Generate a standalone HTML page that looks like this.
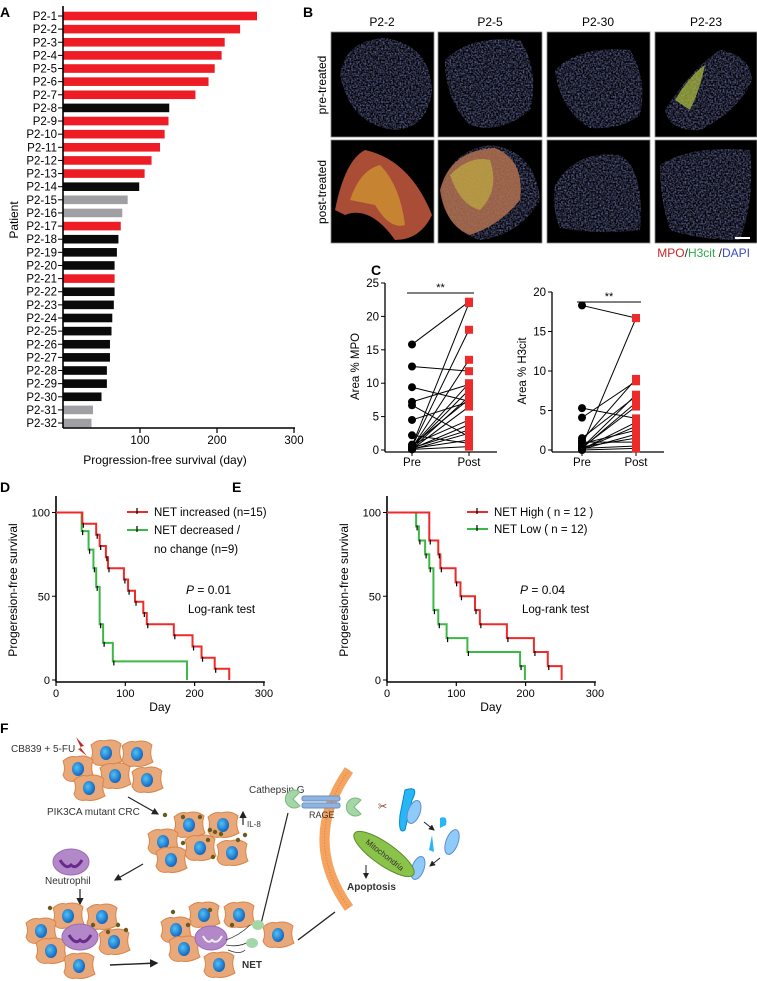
<!DOCTYPE html>
<html><head><meta charset="utf-8"><style>
html,body{margin:0;padding:0;background:#fff;}
svg{display:block;font-family:"Liberation Sans",Arial,sans-serif;}
</style></head><body>
<svg id="fig" width="757" height="981" viewBox="0 0 757 981">
<defs>
<radialGradient id="nuc" cx="40%" cy="40%" r="60%"><stop offset="0" stop-color="#4fc3f7"/><stop offset="1" stop-color="#1565c0"/></radialGradient>
<filter id="noise"><feTurbulence type="fractalNoise" baseFrequency="0.6" numOctaves="2" seed="3"/><feColorMatrix values="0 0 0 0 0.3  0 0 0 0 0.35  0 0 0 0 0.85  0 0 0 -1.6 1.1"/><feComposite in2="SourceGraphic" operator="in"/></filter>
<marker id="arr" markerWidth="6" markerHeight="6" refX="5" refY="3" orient="auto"><path d="M0,0 L6,3 L0,6 z" fill="#222"/></marker>
</defs>

<text x="0" y="17" font-size="14" font-weight="bold">A</text>
<text x="303" y="17" font-size="14" font-weight="bold">B</text>
<text x="371" y="275" font-size="14" font-weight="bold">C</text>
<text x="0" y="492" font-size="14" font-weight="bold">D</text>
<text x="232" y="492" font-size="14" font-weight="bold">E</text>
<text x="0" y="733" font-size="14" font-weight="bold">F</text>

<g id="panelA"></g>

<g id="panelB">
<text x="382" y="26" font-size="12" text-anchor="middle">P2-2</text>
<text x="490" y="26" font-size="12" text-anchor="middle">P2-5</text>
<text x="598" y="26" font-size="12" text-anchor="middle">P2-30</text>
<text x="706" y="26" font-size="12" text-anchor="middle">P2-23</text>
<text transform="translate(326,85) rotate(-90)" font-size="12" text-anchor="middle">pre-treated</text>
<text transform="translate(326,192) rotate(-90)" font-size="12" text-anchor="middle">post-treated</text>
<g stroke="#888" stroke-width="0.8">
<rect x="331" y="32" width="103" height="105" fill="#000"/><rect x="438" y="32" width="104" height="105" fill="#000"/><rect x="547" y="32" width="103" height="105" fill="#000"/><rect x="655" y="32" width="102" height="105" fill="#000"/>
<rect x="331" y="140" width="103" height="103" fill="#000"/><rect x="438" y="140" width="104" height="103" fill="#000"/><rect x="547" y="140" width="103" height="103" fill="#000"/><rect x="655" y="140" width="102" height="103" fill="#000"/>
</g>
<g filter="url(#noise)" opacity="0.75">
<path d="M340,75 Q345,40 385,38 Q430,45 432,90 Q428,128 395,130 Q350,125 340,75z" fill="#3a48a0"/>
<path d="M445,60 Q470,35 520,40 Q540,70 530,110 Q500,135 470,125 Q445,100 445,60z" fill="#3440a8"/>
<path d="M555,70 Q580,45 630,50 Q648,80 640,115 Q620,130 590,128 Q560,110 555,70z" fill="#3440a8"/>
<path d="M665,110 Q690,70 720,50 Q750,55 752,80 Q740,110 700,130 Q670,132 665,110z" fill="#4050b0"/>
<path d="M555,185 Q575,150 620,155 Q645,170 640,230 Q600,235 560,228 Q552,210 555,185z" fill="#4a2a80"/>
<path d="M660,165 Q690,145 750,150 Q755,200 740,240 Q700,240 670,230 Q660,200 660,165z" fill="#3848b0"/>
<path d="M442,190 Q450,150 490,145 Q535,150 540,200 Q520,235 480,240 Q445,230 442,190z" fill="#3848b0"/>
</g>
<path d="M335,210 Q345,160 365,150 Q410,160 432,215 Q420,240 395,240 Q370,205 345,215z" fill="#c85a40" opacity="0.85"/>
<path d="M440,190 Q450,150 495,148 Q525,160 520,200 Q500,225 470,235 Q445,225 440,190z" fill="#b07050" opacity="0.85"/>
<path d="M675,100 Q690,75 705,65 Q700,90 690,110z" fill="#b0c040" opacity="0.7"/>
<path d="M350,200 Q360,170 380,165 Q400,185 405,225 Q390,230 375,205z" fill="#d8a830" opacity="0.6"/>
<path d="M450,175 Q470,155 490,160 Q500,190 480,210 Q460,205 450,175z" fill="#c8c040" opacity="0.55"/>
<rect x="735" y="237" width="15" height="2" fill="#fff"/>
<text x="750" y="257" font-size="12" text-anchor="end"><tspan fill="#c62828">MPO</tspan><tspan fill="#222">/</tspan><tspan fill="#2eaa4a">H3cit</tspan><tspan fill="#222"> /</tspan><tspan fill="#3b4bc8">DAPI</tspan></text>
</g>

<g id="panelC"></g>
<g id="panelD"></g>
<g id="panelE"></g>

<g id="panelF" font-family="'Liberation Sans Narrow','Liberation Sans',sans-serif">
<text x="11" y="752" font-size="10" fill="#333">CB839 + 5-FU</text>
<path d="M76,737 L84,746 L80,747 L87,756 L78,749 L81,748z" fill="#c62828"/>
<text x="47" y="815" font-size="10" fill="#333">PIK3CA mutant CRC</text>
<line x1="128" y1="797" x2="158" y2="814" stroke="#222" stroke-width="1.2" marker-end="url(#arr)"/>
<line x1="243" y1="825" x2="243" y2="812" stroke="#222" stroke-width="1.2" marker-end="url(#arr)"/>
<text x="247" y="827" font-size="8" fill="#333">IL-8</text>
<line x1="143" y1="864" x2="115" y2="880" stroke="#222" stroke-width="1.2" marker-end="url(#arr)"/>
<text x="45" y="884" font-size="10" fill="#333">Neutrophil</text>
<line x1="80" y1="889" x2="80" y2="904" stroke="#222" stroke-width="1.2" marker-end="url(#arr)"/>
<line x1="110" y1="965" x2="157" y2="963" stroke="#222" stroke-width="1.4" marker-end="url(#arr)"/>
<line x1="260" y1="928" x2="288" y2="813" stroke="#222" stroke-width="1.2"/>
<line x1="298" y1="940" x2="335" y2="912" stroke="#222" stroke-width="1.4"/>
<g id="cells"></g>
<ellipse cx="71" cy="862" rx="18" ry="13" fill="#b388c8" stroke="#9a6ab8"/>
<path d="M60,860 Q66,870 71,865 Q76,870 82,860" stroke="#6a2a8a" stroke-width="3" fill="none"/>
<ellipse cx="80" cy="937" rx="18" ry="13" fill="#b388c8" stroke="#9a6ab8"/>
<path d="M69,935 Q75,945 80,940 Q85,945 91,935" stroke="#6a2a8a" stroke-width="3" fill="none"/>
<ellipse cx="211" cy="938" rx="16" ry="12" fill="#b388c8" stroke="#9a6ab8"/>
<path d="M203,936 Q208,945 212,940 Q217,945 222,936" stroke="#eee" stroke-width="2" fill="none"/>
<path d="M226,940 Q240,935 250,925 M226,945 Q240,948 252,940 M228,950 Q240,955 245,950" stroke="#333" stroke-width="0.8" fill="none"/>
<ellipse cx="258" cy="925" rx="6" ry="5" fill="#a5d6a7"/><ellipse cx="252" cy="943" rx="6" ry="5" fill="#a5d6a7"/>
<text x="242" y="968" font-size="10" font-weight="bold" fill="#333">NET</text>
<path d="M349,770 Q300,840 349,908" stroke="#f4a460" stroke-width="10" fill="none"/>
<path d="M349,770 Q300,840 349,908" stroke="#e07a30" stroke-width="1" stroke-dasharray="1 2" fill="none"/>
<text x="249" y="793" font-size="10" fill="#333">Cathepsin G</text>
<path d="M300,792 A9,9 0 1 0 300,806 L293,799z" fill="#a5d6a7" stroke="#7cb87f"/>
<rect x="302" y="796" width="38" height="5" rx="2" fill="#90b4e0" stroke="#6a8fc0"/><rect x="302" y="803" width="38" height="5" rx="2" fill="#90b4e0" stroke="#6a8fc0"/>
<text x="309" y="818" font-size="9" fill="#333">RAGE</text>
<path d="M361,800 A9,9 0 1 0 361,814 L354,807z" fill="#a5d6a7" stroke="#7cb87f"/>
<text x="378" y="810" font-size="11" fill="#8b3a1a">✂</text>
<path d="M405,790 Q420,785 412,800 L405,830 Q398,835 400,815z" fill="#29b6f6" stroke="#0288d1"/>
<ellipse cx="414" cy="812" rx="6" ry="12" fill="#90caf9" stroke="#5c8fd0" transform="rotate(20 414 812)"/>
<path d="M440,818 Q448,815 446,825 L440,828z" fill="#29b6f6"/><path d="M432,835 L434,852 L429,850z" fill="#29b6f6"/>
<ellipse cx="452" cy="842" rx="6" ry="13" fill="#90caf9" stroke="#5c8fd0" transform="rotate(20 452 842)"/>
<ellipse cx="418" cy="868" rx="6" ry="12" fill="#90caf9" stroke="#5c8fd0" transform="rotate(20 418 868)"/>
<ellipse cx="384" cy="854" rx="36" ry="11" fill="#8bc34a" stroke="#5a8a2a" transform="rotate(35 384 854)"/>
<text transform="translate(365,843) rotate(38)" font-size="8" fill="#333">Mitochondria</text>
<text x="347" y="890" font-size="10" font-weight="bold" fill="#333">Apoptosis</text>
<line x1="366" y1="865" x2="366" y2="878" stroke="#222" stroke-width="1" marker-end="url(#arr)"/>
<line x1="424" y1="822" x2="434" y2="830" stroke="#222" stroke-width="1" marker-end="url(#arr)"/>
<line x1="440" y1="858" x2="430" y2="866" stroke="#222" stroke-width="1" marker-end="url(#arr)"/>
</g>
</svg>
<script>
var NS="http://www.w3.org/2000/svg";
function mk(parent,tag,attrs){var e=document.createElementNS(NS,tag);for(var k in attrs)e.setAttribute(k,attrs[k]);parent.appendChild(e);return e;}
function txt(parent,x,y,s,size,anchor,extra){var t=mk(parent,'text',{x:x,y:y,'font-size':size,'text-anchor':anchor||'start'});if(extra)for(var k in extra)t.setAttribute(k,extra[k]);t.textContent=s;return t;}

/* ---------- Panel A data ---------- */
var patients=['P2-1','P2-2','P2-3','P2-4','P2-5','P2-6','P2-7','P2-8','P2-9','P2-10','P2-11','P2-12','P2-13','P2-14','P2-15','P2-16','P2-17','P2-18','P2-19','P2-20','P2-21','P2-22','P2-23','P2-24','P2-25','P2-26','P2-27','P2-28','P2-29','P2-30','P2-31','P2-32'];
var pfsDays=[252,230,210,206,197,189,172,138,137,132,126,115,106,99,84,77,75,72,70,67,67,67,66,64,63,61,61,57,57,50,39,37];
var pfsGroup=['r','r','r','r','r','r','r','k','r','r','r','r','r','k','g','g','r','k','k','k','r','k','k','k','k','k','k','k','k','k','g','g'];
var aTicks=[100,200,300];
(function(){
 var g=document.getElementById('panelA');
 var x0=63,pxPer=0.77,y1=16,step=13.13,axisY=428;
 function xs(v){return x0+v*pxPer;}
 function ys(i){return y1+i*step;}
 var col={r:'#ee1c25',k:'#0a0a0a',g:'#a0a0a4'};
 for(var i=0;i<patients.length;i++){
  var b=mk(g,'rect',{x:x0,y:ys(i)-4.3,width:xs(pfsDays[i])-x0,height:8.6,fill:col[pfsGroup[i]]});
  
  
  mk(g,'line',{x1:x0-5,x2:x0,y1:ys(i),y2:ys(i),stroke:'#000','stroke-width':1});
  var t=txt(g,x0-6,ys(i)+4,patients[i],11.5,'end');
  
  
 }
 mk(g,'line',{x1:x0,x2:x0,y1:6,y2:axisY,stroke:'#000','stroke-width':1.6});
 mk(g,'line',{x1:x0,x2:xs(300)+1,y1:axisY,y2:axisY,stroke:'#000','stroke-width':1.6});
 aTicks.forEach(function(v){mk(g,'line',{x1:xs(v),x2:xs(v),y1:axisY,y2:axisY+5,stroke:'#000','stroke-width':1.2});
  var t=txt(g,xs(v),axisY+16,String(v),11.5,'middle');
  
  });
 var xt=txt(g,165,464,'Progression-free survival (day)',12,'middle');
 
 
 var yt=txt(g,0,0,'Patient',12,'middle',{transform:'translate(18,220) rotate(-90)'});
 
 
})();

/* ---------- Panel C data ---------- */
var mpoPre=[15.8,12.5,9.4,7.2,6.7,4.5,2.2,0.5,0.3,0.5,0.2,0.1,0.8,0.3,0.2,0.6,0.1,0.2,0.4,0.1,0.7];
var mpoPost=[22.2,11.8,7.3,9.8,2.0,7.2,1.0,18.0,13.5,10.0,8.0,6.5,4.5,3.0,1.5,22.0,2.5,3.8,9.0,0.5,7.6];
var mpoTicks=[0,5,10,15,20,25];
var h3Pre=[18.3,5.3,4.1,1.5,1.2,0.5,0.3,0.2,0.1,0.8,0.4,0.2,0.1,1.0,0.3,0.1,0.0];
var h3Post=[16.7,4.0,8.7,6.8,9.0,16.7,7.0,6.0,3.5,2.5,1.5,0.5,2.0,1.0,5.5,3.0,0.2];
var h3Ticks=[0,5,10,15,20];
(function(){
 var g=document.getElementById('panelC');
 function plot(ax,axTop,axMax,pre,post,ticks,preX,postX,title,name){
  var y0=450,span=y0-axTop;
  function ys(v){return y0-v/axMax*span;}
  var sub=mk(g,'g',{});
  
  
  mk(sub,'line',{x1:ax,x2:ax,y1:axTop,y2:y0+2,stroke:'#000','stroke-width':1.3});
  mk(sub,'line',{x1:ax,x2:ax+112,y1:y0+2,y2:y0+2,stroke:'#000','stroke-width':1.3});
  ticks.forEach(function(v){mk(sub,'line',{x1:ax-4,x2:ax,y1:ys(v),y2:ys(v),stroke:'#000'});txt(sub,ax-6,ys(v)+4,String(v),11.5,'end');});
  [preX,postX].forEach(function(x){mk(sub,'line',{x1:x,x2:x,y1:y0+2,y2:y0+6,stroke:'#000'});});
  txt(sub,preX,y0+16,'Pre',11.5,'middle');txt(sub,postX,y0+16,'Post',11.5,'middle');
  txt(sub,0,0,title,11.5,'middle',{transform:'translate('+(ax-26)+','+((axTop+y0)/2)+') rotate(-90)'});
  mk(sub,'line',{x1:preX-5,x2:postX+5,y1:axTop+10,y2:axTop+10,stroke:'#000'});
  txt(sub,(preX+postX)/2,axTop+8,'**',11,'middle');
  for(var i=0;i<pre.length;i++){
   var l=mk(sub,'line',{x1:preX,y1:ys(pre[i]),x2:postX,y2:ys(post[i]),stroke:'#000','stroke-width':1});
   
   
  }
  for(var i=0;i<pre.length;i++){
   var s=mk(sub,'rect',{x:postX-4,y:ys(post[i])-4,width:8,height:8,fill:'#ee2a2a'});
   
   
   var c=mk(sub,'circle',{cx:preX,cy:ys(pre[i]),r:4,fill:'#000'});
   
   
  }
 }
 plot(385,283,25,mpoPre,mpoPost,mpoTicks,412,469,'Area % MPO','mpo-chart');
 plot(552,292,20,h3Pre,h3Post,h3Ticks,582,636,'Area % H3cit','h3cit-chart');
})();

/* ---------- Panel D/E data ---------- */
var dRedT=[38,58,63,72,75,98,104,114,126,131,170,197,210,229,250];
var dRedS=[93.3,86.7,80,73.3,66.7,60,53.3,46.7,40,33.3,26.7,20,13.3,6.7,0];
var dGrnT=[37,47,54,58,63,68,82,189];
var dGrnS=[88.9,77.8,66.7,55.6,33.3,22.2,11.1,0];
var eRedT=[61,74,77,99,106,127,134,173,212,232,252];
var eRedS=[83.3,75,66.7,58.3,50,41.7,33.3,25,16.7,8.3,0];
var eGrnT=[42,46,55,61,67,74,86,116,192,199];
var eGrnS=[91.7,83.3,75,66.7,41.7,33.3,25,16.7,8.3,0];
var kmXTicks=[0,100,200,300];
var kmYTicks=[0,50,100];
function km(gid,ax,redT,redS,grnT,grnS,leg,pText){
 var g=document.getElementById(gid);
 var y100=512.5,y0=680,pxX=0.693;
 function xs(d){return ax+d*pxX;}
 function ys(v){return y0-v/100*(y0-y100);}
 mk(g,'line',{x1:ax,x2:ax,y1:496,y2:y0+2,stroke:'#000','stroke-width':1.6});
 mk(g,'line',{x1:ax,x2:xs(300)+1,y1:y0+2,y2:y0+2,stroke:'#000','stroke-width':1.6});
 kmXTicks.forEach(function(v){mk(g,'line',{x1:xs(v),x2:xs(v),y1:y0+2,y2:y0+6,stroke:'#000','stroke-width':1.2});txt(g,xs(v),y0+17,String(v),11,'middle');});
 kmYTicks.forEach(function(v){mk(g,'line',{x1:ax-4,x2:ax,y1:ys(v),y2:ys(v),stroke:'#000'});txt(g,ax-6,ys(v)+4,String(v),11,'end');});
 txt(g,xs(150),y0+31,'Day',12,'middle');
 txt(g,0,0,'Progeresion-free survival',12,'middle',{transform:'translate('+(ax-39)+',590) rotate(-90)'});
 function curve(T,S,color,name){
  var d='M'+xs(0)+','+ys(100);
  for(var i=0;i<T.length;i++){d+=' H'+xs(T[i])+' V'+ys(S[i]);}
  var p=mk(g,'path',{d:d,fill:'none',stroke:color,'stroke-width':2});
  
  
  for(var i=0;i<T.length-1;i++){mk(g,'line',{x1:xs(T[i])+1,x2:xs(T[i])+1,y1:ys(S[i])-1,y2:ys(S[i])+4,stroke:'#000','stroke-width':1.2});}
 }
 curve(grnT,grnS,'#3cb846','curve-low');
 curve(redT,redS,'#ee2a2a','curve-high');
 leg.forEach(function(L){
  mk(g,'line',{x1:L.x,x2:L.x+21,y1:L.y,y2:L.y,stroke:L.c,'stroke-width':2});
  mk(g,'line',{x1:L.x+10,x2:L.x+10,y1:L.y-4,y2:L.y+2,stroke:'#000','stroke-width':1.2});
  L.t.forEach(function(s,j){var t=txt(g,L.x+27,L.y+4+j*19,s,11.5,'start');
   
   });
 });
 var p=txt(g,pText.x,594,'',12,'start');
 var ti=mk(p,'tspan',{'font-style':'italic'});ti.textContent='P';
 var t2=mk(p,'tspan',{});t2.textContent=' = '+pText.p;
 txt(g,pText.x+2,613,'Log-rank test',11.5,'start');
}
km('panelD',56,dRedT,dRedS,dGrnT,dGrnS,[{x:127,y:512,c:'#ee2a2a',t:['NET increased (n=15)']},{x:127,y:530,c:'#3cb846',t:['NET decreased /','no change (n=9)']}],{x:186,p:'0.01'});
km('panelE',387,eRedT,eRedS,eGrnT,eGrnS,[{x:467,y:512,c:'#ee2a2a',t:['NET High      ( n = 12 )']},{x:467,y:529,c:'#3cb846',t:['NET Low       ( n = 12)']}],{x:520,p:'0.04'});

/* ---------- Panel F cells ---------- */
var cellPos=[[106,753],[137,754],[78,769],[115,776],[147,780],[89,788],
 [189,825],[223,825],[163,842],[200,848],[232,853],[171,860],
 [68,916],[102,917],[41,931],[114,942],[51,951],[79,966],
 [204,915],[239,915],[176,930],[278,935],[184,949],[219,965]];
(function(){
 var g=document.getElementById('cells');
 cellPos.forEach(function(p){
  var x=p[0],y=p[1];
  var c=mk(g,'path',{d:'M'+(x-15)+','+(y-8)+' Q'+(x-8)+','+(y-14)+' '+(x-2)+','+(y-12)+' Q'+(x+8)+','+(y-15)+' '+(x+15)+','+(y-9)+' Q'+(x+12)+','+y+' '+(x+16)+','+(y+8)+' Q'+(x+5)+','+(y+14)+' '+(x-3)+','+(y+12)+' Q'+(x-12)+','+(y+14)+' '+(x-15)+','+(y+6)+' Q'+(x-12)+','+y+' '+(x-15)+','+(y-8)+'z',fill:'#e8a87a',stroke:'#d8854c','stroke-width':1});
  
  
  mk(g,'ellipse',{cx:x,cy:y,rx:6,ry:7,fill:'url(#nuc)'});
 });
 var dots=[[165,815],[183,817],[200,817],[210,830],[208,840],[215,832],[245,835],[183,843],[213,857],[221,834],[238,840],[50,908],[93,925],[118,925],[126,930],[108,932],[173,912],[210,910],[188,925],[232,925]];
 dots.forEach(function(d){mk(g,'circle',{cx:d[0],cy:d[1],r:2.2,fill:'#6b5a1e'});});
 // neutrophils drawn on top of cells
 var svg=document.getElementById('panelF');
})();
</script>
</body></html>
